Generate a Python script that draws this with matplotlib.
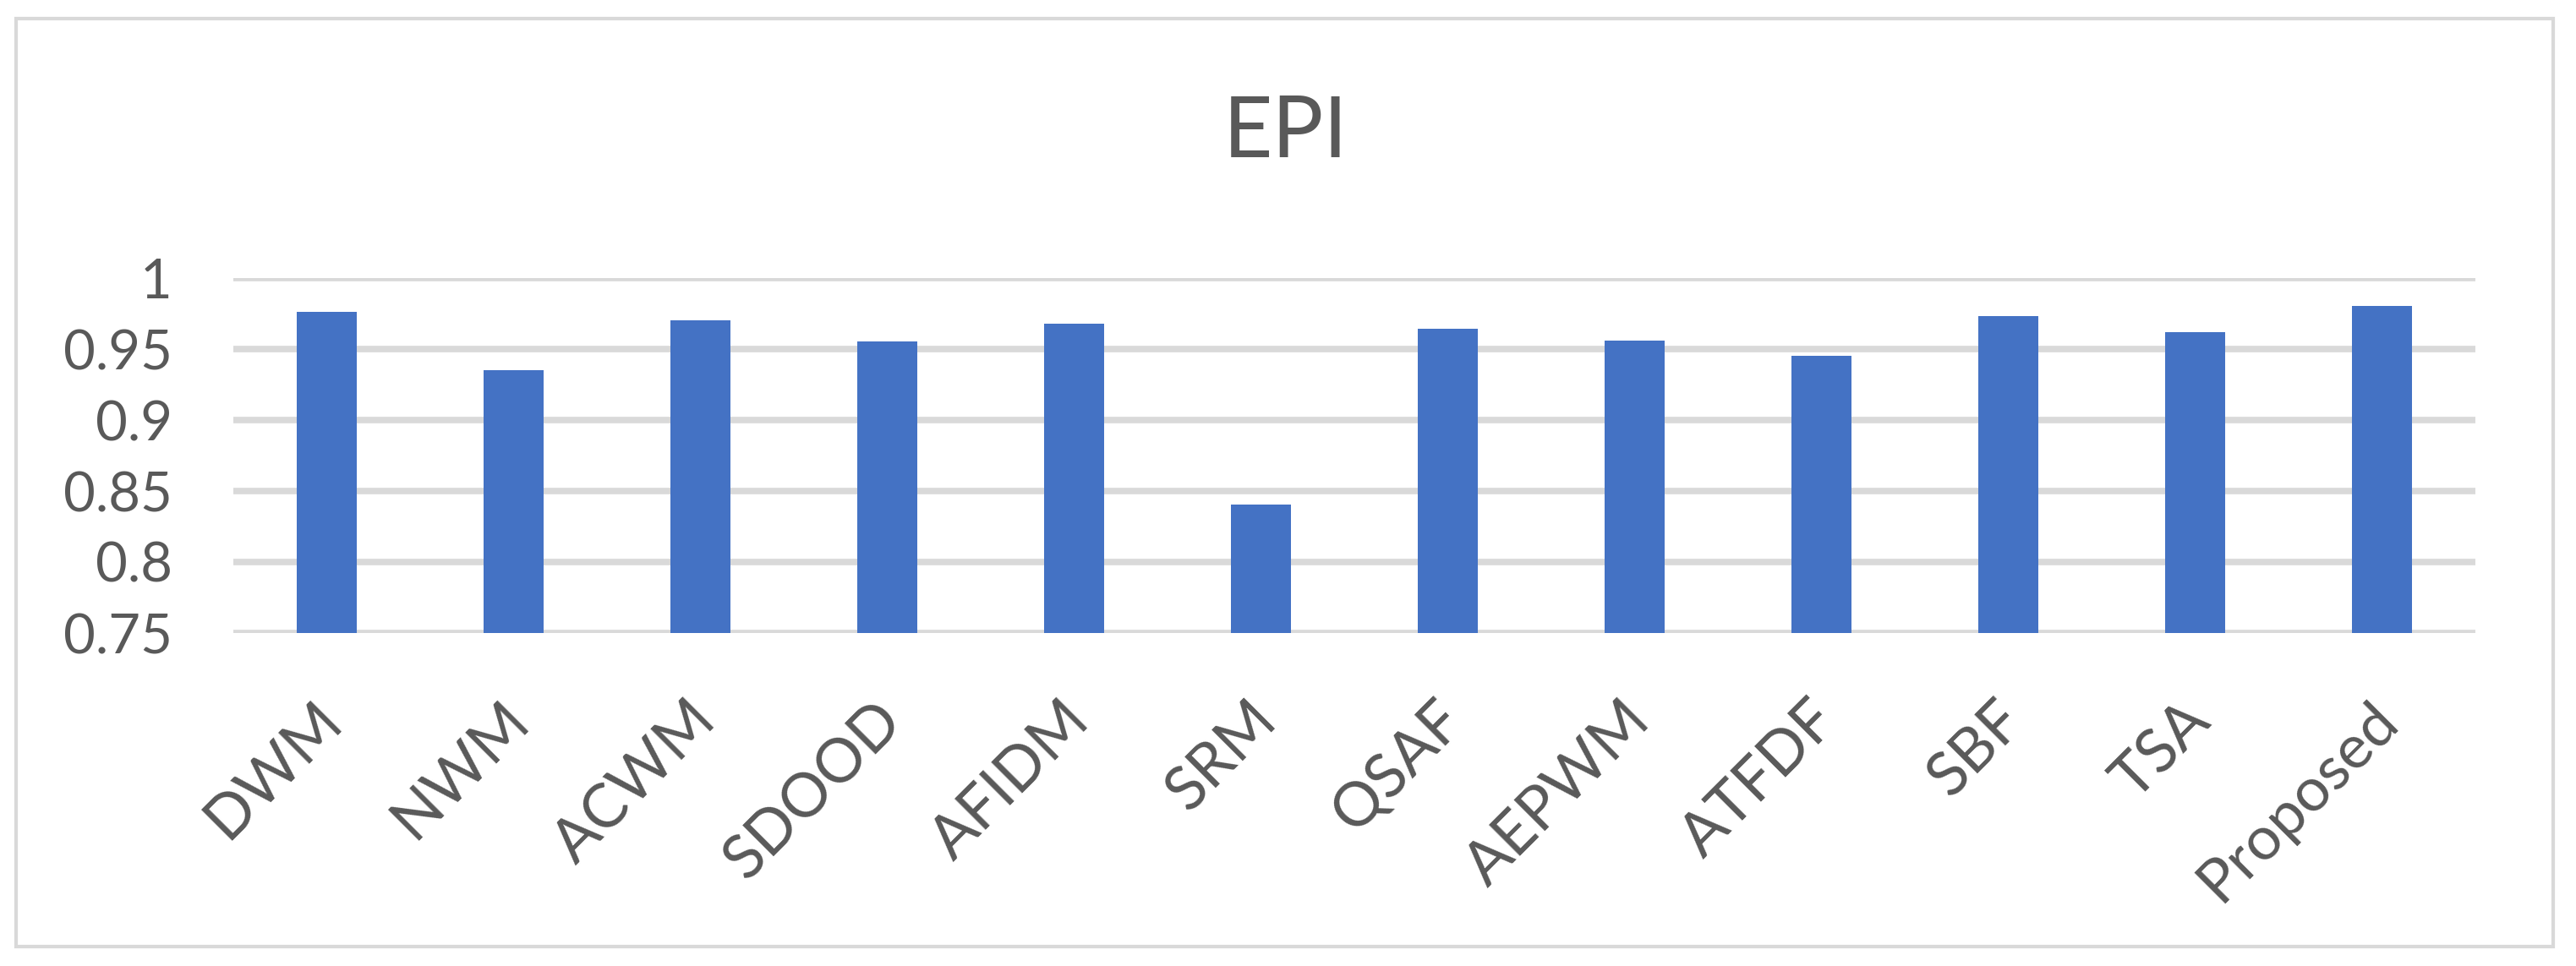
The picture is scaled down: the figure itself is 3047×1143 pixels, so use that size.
import matplotlib.pyplot as plt
import matplotlib.patches as patches
import matplotlib.transforms as mtransforms

plt.rcParams['font.family'] = ['Lato', 'DejaVu Sans']

methods = ['DWM', 'NWM', 'ACWM', 'SDOOD', 'AFIDM', 'SRM', 'QSAF',
           'AEPWM', 'ATFDF', 'SBF', 'TSA', 'Proposed']
epi = [0.9764, 0.9353, 0.9704, 0.9556, 0.9681, 0.8407, 0.9645,
       0.9562, 0.9454, 0.9734, 0.9621, 0.9806]
yticks = [0.75, 0.8, 0.85, 0.9, 0.95, 1.0]
ytick_labels = ['0.75', '0.8', '0.85', '0.9', '0.95', '1']

text_color = '#595959'
grid_color = '#D9D9D9'
bar_color = '#4472C4'

fig = plt.figure(figsize=(30.47, 11.43), dpi=100, facecolor='white')

# chart area border
fig.patches.append(patches.Rectangle((19 / 3047, 1 - 1120 / 1143), (3020 - 19) / 3047,
                                     (1120 - 22) / 1143, transform=fig.transFigure,
                                     fill=False, edgecolor=grid_color, lw=3))

ax = fig.add_axes([276 / 3047, 1 - 749 / 1143, (2928 - 276) / 3047, (749 - 329) / 1143])
x = list(range(len(methods)))
ax.bar(x, epi, width=0.32, color=bar_color, zorder=3)

ax.set_xlim(-0.5, len(methods) - 0.5)
ax.set_ylim(0.75, 1.0)
ax.set_yticks(yticks)
ax.set_yticklabels(ytick_labels)
ax.yaxis.grid(True, color=grid_color, lw=5.5, zorder=0)
ax.set_axisbelow(True)
for s in ax.spines.values():
    s.set_visible(False)

ax.tick_params(axis='y', length=0, pad=52, labelsize=47, labelcolor=text_color)
ax.tick_params(axis='x', length=0, pad=50, labelsize=52, labelcolor=text_color)
ax.set_xticks(x)
ax.set_xticklabels(methods, rotation=45, ha='right', va='top', rotation_mode='anchor')
offset = mtransforms.ScaledTranslation(-0.16, 0, fig.dpi_scale_trans)
for lbl in ax.get_xticklabels():
    lbl.set_transform(lbl.get_transform() + offset)

fig.text(1521 / 3047, 1 - 157 / 1143, 'EPI', ha='center', va='center',
         fontsize=73, color=text_color)

fig.savefig('out.png', dpi=100, facecolor='white')
